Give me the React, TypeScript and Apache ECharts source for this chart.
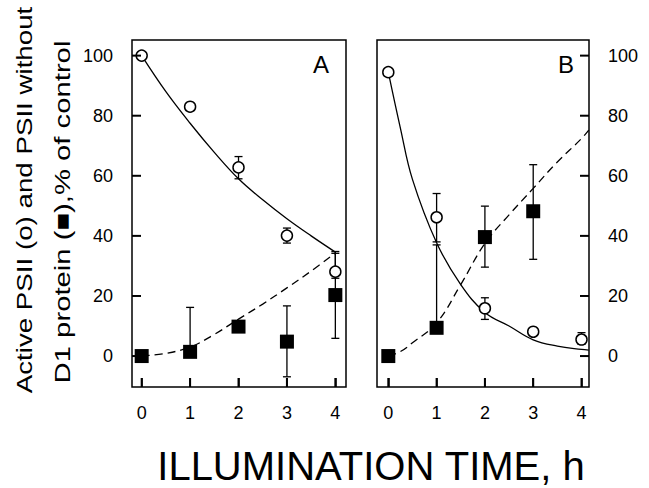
import React, { useEffect, useRef } from "react";
import * as echarts from "echarts";

// ---- data ----
const hours = [0, 1, 2, 3, 4];
const hoursB3 = [0, 1, 2, 3];

// Panel A
const activeA = [100, 83, 62.8, 40.1, 28.1];
const activeAErrLow = [null, null, 59, 37.6, 25.9];
const activeAErrHigh = [null, null, 66.4, 42.6, 34.8];
const noD1A = [0, 1.4, 9.8, 4.8, 20.3];
const noD1AErrLow = [null, 1.4, null, -6.9, 5.9];
const noD1AErrHigh = [null, 16.2, null, 16.7, 34.2];
const fitXA = [0, 0.5, 1, 1.5, 2, 2.5, 3, 3.5, 4];
const fitActiveA = [100, 88, 77.5, 67.8, 59, 52, 45.7, 40, 34.6];
const fitNoD1A = [0, 0.9, 3, 7.2, 12.3, 17.3, 22.7, 28.3, 34.3];

// Panel B
const activeB = [94.5, 46.2, 15.9, 8.1, 5.5];
const activeBErrLow = [null, 38, 12.2, null, 3.9];
const activeBErrHigh = [null, 54.1, 19.4, null, 7.8];
const noD1B = [0, 9.4, 39.6, 48.2];
const noD1BErrLow = [null, 9.4, 29.6, 32.2];
const noD1BErrHigh = [null, 37, 49.9, 63.7];
const fitXB = [0, 0.25, 0.5, 1, 1.5, 2, 2.5, 3, 3.5, 4, 4.15];
const fitActiveB = [94.5, 75.9, 58.8, 37.7, 23.8, 14.5, 10, 5.4, 3.3, 2.2, 2];
const fitNoD1B = [0, 1.5, 4.4, 11, 23.8, 37.5, 47, 55.8, 64.6, 72.4, 75.2];

const xTicks = [0, 1, 2, 3, 4];
const yTicks = [0, 20, 40, 60, 80, 100];

// axis extents
const Y_MIN = -10.3;
const Y_MAX = 105.2;
const XA_MIN = -0.2;
const XA_MAX = 4.22;
const XB_MIN = -0.234;
const XB_MAX = 4.155;

const FONT = "Liberation Sans, Arial, Helvetica, sans-serif";

function pairs(xs: number[], ys: number[]) {
  return xs.map((x, i) => [x, ys[i]]);
}

function errData(xs: number[], vals: number[], lo: (number | null)[], hi: (number | null)[]) {
  const out: number[][] = [];
  xs.forEach((x, i) => {
    if (lo[i] !== null && hi[i] !== null) out.push([x, lo[i] as number, hi[i] as number, vals[i]]);
  });
  return out;
}

const barStyle = { stroke: "#000", lineWidth: 1.3 };
const tickLineStyle = { stroke: "#000", lineWidth: 2 };
const TICK_LEN = 9;

function renderErr(params: any, api: any) {
  const x = api.value(0);
  const lo = api.value(1);
  const hi = api.value(2);
  const v = api.value(3);
  const pLo = api.coord([x, lo]);
  const pHi = api.coord([x, hi]);
  const cw = 4;
  const children: any[] = [
    { type: "line", shape: { x1: pLo[0], y1: pLo[1], x2: pHi[0], y2: pHi[1] }, style: barStyle },
    { type: "line", shape: { x1: pHi[0] - cw, y1: pHi[1], x2: pHi[0] + cw, y2: pHi[1] }, style: barStyle },
  ];
  if (lo < v - 0.5) {
    children.push({ type: "line", shape: { x1: pLo[0] - cw, y1: pLo[1], x2: pLo[0] + cw, y2: pLo[1] }, style: barStyle });
  }
  return { type: "group", children };
}

// inward tick marks: dx/dy give direction
function tickRenderer(dx: number, dy: number) {
  return (params: any, api: any) => {
    const p = api.coord([api.value(0), api.value(1)]);
    return {
      type: "line",
      shape: { x1: p[0], y1: p[1], x2: p[0] + dx * TICK_LEN, y2: p[1] + dy * TICK_LEN },
      style: tickLineStyle,
    };
  };
}

const axisTickCfg = (vals: number[]) => ({
  show: true,
  inside: true,
  length: TICK_LEN,
  customValues: vals,
  lineStyle: { color: "#000", width: 1.5 },
});

function xAxisCfg(gridIndex: number, min: number, max: number) {
  return {
    type: "value",
    gridIndex,
    min,
    max,
    axisLine: { show: false, onZero: false },
    splitLine: { show: false },
    axisTick: axisTickCfg(xTicks),
    axisLabel: { customValues: xTicks, margin: 17, color: "#000", fontSize: 18, fontFamily: FONT },
  };
}

function yAxisCfg(gridIndex: number, position: "left" | "right") {
  return {
    type: "value",
    gridIndex,
    position,
    offset: 11,
    min: Y_MIN,
    max: Y_MAX,
    axisLine: { show: false, onZero: false },
    splitLine: { show: false },
    axisTick: { show: false },
    axisLabel: { customValues: yTicks, margin: 8, color: "#000", fontSize: 18, fontFamily: FONT },
  };
}

export default function App() {
  const ref = useRef<HTMLDivElement>(null);
  useEffect(() => {
    if (!ref.current) return;
    const chart = echarts.init(ref.current, null, { renderer: "svg" });
    const lineBase = { type: "line", showSymbol: false, smooth: 0.4, silent: true, z: 2 };
    const solid = { color: "#000", width: 1.3, type: "solid" };
    const dashed = { color: "#000", width: 1.3, type: [8, 5] };
    const circleStyle = { color: "#fff", borderColor: "#000", borderWidth: 1.5, opacity: 1 };
    const squareStyle = { color: "#000", opacity: 1 };
    const tickSeries = (xi: number, data: number[][], dx: number, dy: number) => ({
      type: "custom",
      xAxisIndex: xi,
      yAxisIndex: xi,
      z: 5,
      silent: true,
      clip: false,
      renderItem: tickRenderer(dx, dy),
      encode: { x: 0, y: 1 },
      data,
    });
    chart.setOption({
      animation: false,
      backgroundColor: "#fff",
      grid: [
        { left: 132, top: 40, width: 214, height: 347, show: true, borderColor: "#000", borderWidth: 1.5 },
        { left: 377, top: 40, width: 212, height: 347, show: true, borderColor: "#000", borderWidth: 1.5 },
      ],
      xAxis: [xAxisCfg(0, XA_MIN, XA_MAX), xAxisCfg(1, XB_MIN, XB_MAX)],
      yAxis: [yAxisCfg(0, "left"), yAxisCfg(1, "right")],
      series: [
        // Panel A curves
        { ...lineBase, xAxisIndex: 0, yAxisIndex: 0, data: pairs(fitXA, fitActiveA), lineStyle: solid },
        { ...lineBase, xAxisIndex: 0, yAxisIndex: 0, data: pairs(fitXA, fitNoD1A), lineStyle: dashed },
        // Panel B curves
        { ...lineBase, xAxisIndex: 1, yAxisIndex: 1, data: pairs(fitXB, fitActiveB), lineStyle: solid },
        { ...lineBase, xAxisIndex: 1, yAxisIndex: 1, data: pairs(fitXB, fitNoD1B), lineStyle: dashed },
        // Error bars
        { type: "custom", xAxisIndex: 0, yAxisIndex: 0, z: 3, silent: true, renderItem: renderErr, encode: { x: 0, y: [1, 2] }, data: errData(hours, activeA, activeAErrLow, activeAErrHigh) },
        { type: "custom", xAxisIndex: 0, yAxisIndex: 0, z: 3, silent: true, renderItem: renderErr, encode: { x: 0, y: [1, 2] }, data: errData(hours, noD1A, noD1AErrLow, noD1AErrHigh) },
        { type: "custom", xAxisIndex: 1, yAxisIndex: 1, z: 3, silent: true, renderItem: renderErr, encode: { x: 0, y: [1, 2] }, data: errData(hours, activeB, activeBErrLow, activeBErrHigh) },
        { type: "custom", xAxisIndex: 1, yAxisIndex: 1, z: 3, silent: true, renderItem: renderErr, encode: { x: 0, y: [1, 2] }, data: errData(hoursB3, noD1B, noD1BErrLow, noD1BErrHigh) },
        // Markers
        { type: "scatter", xAxisIndex: 0, yAxisIndex: 0, z: 4, silent: true, symbol: "circle", symbolSize: 11, itemStyle: circleStyle, data: pairs(hours, activeA) },
        { type: "scatter", xAxisIndex: 0, yAxisIndex: 0, z: 4, silent: true, symbol: "rect", symbolSize: 14, itemStyle: squareStyle, data: pairs(hours, noD1A) },
        { type: "scatter", xAxisIndex: 1, yAxisIndex: 1, z: 4, silent: true, symbol: "circle", symbolSize: 11, itemStyle: circleStyle, data: pairs(hours, activeB) },
        { type: "scatter", xAxisIndex: 1, yAxisIndex: 1, z: 4, silent: true, symbol: "rect", symbolSize: 14, itemStyle: squareStyle, data: pairs(hoursB3, noD1B) },
        // Inward axis ticks
        tickSeries(0, xTicks.map((v) => [v, Y_MIN]), 0, -1),
        tickSeries(1, xTicks.map((v) => [v, Y_MIN]), 0, -1),
        tickSeries(0, yTicks.map((v) => [XA_MIN, v]), 1, 0),
        tickSeries(1, yTicks.map((v) => [XB_MAX, v]), -1, 0),
      ],
      graphic: [
        { type: "text", x: 321, y: 64, style: { text: "A", fontSize: 24, fontFamily: FONT, fill: "#000", align: "center", verticalAlign: "middle" } },
        { type: "text", x: 566, y: 64, style: { text: "B", fontSize: 24, fontFamily: FONT, fill: "#000", align: "center", verticalAlign: "middle" } },
        {
          type: "text", x: 24, y: 200, rotation: Math.PI / 2, scaleX: 1.26,
          style: { text: "Active PSII (o) and PSII without", fontSize: 22, fontFamily: FONT, fill: "#000", align: "center", verticalAlign: "middle" },
        },
        {
          type: "text", x: 62, y: 212, rotation: Math.PI / 2, scaleX: 1.33,
          style: { text: "D1 protein (\u25A0),% of control", fontSize: 22, fontFamily: FONT, fill: "#000", align: "center", verticalAlign: "middle" },
        },
        {
          type: "text", x: 371, y: 466,
          style: { text: "ILLUMINATION TIME, h", fontSize: 40, fontFamily: FONT, fill: "#000", align: "center", verticalAlign: "middle" },
        },
      ],
    });
    return () => chart.dispose();
  }, []);
  return <div ref={ref} style={{ position: "fixed", left: 0, top: 0, width: 649, height: 488 }} />;
}
